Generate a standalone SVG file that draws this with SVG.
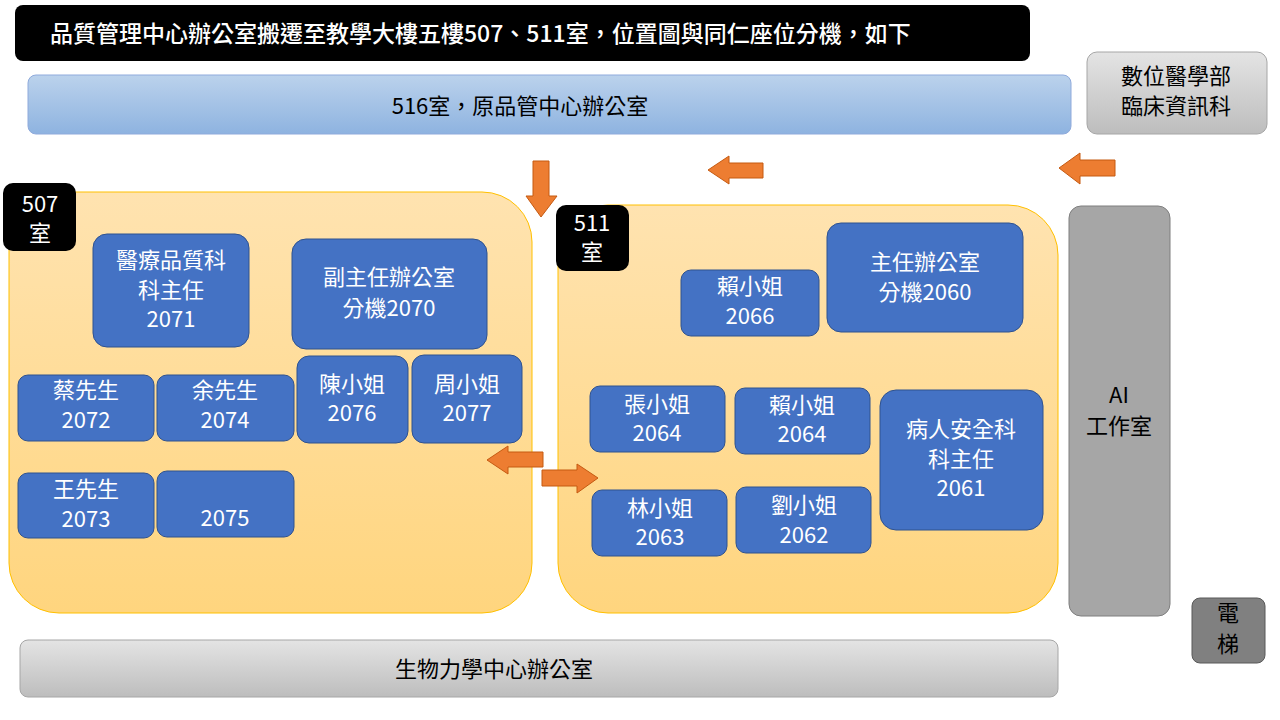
<svg xmlns="http://www.w3.org/2000/svg" width="1280" height="720" viewBox="0 0 1280 720">
<defs>
<linearGradient id="og" x1="0" y1="0" x2="0" y2="1"><stop offset="0" stop-color="#FFE3B0"/><stop offset="1" stop-color="#FFD57E"/></linearGradient>
<linearGradient id="bg" x1="0" y1="0" x2="0" y2="1"><stop offset="0" stop-color="#BBD2EC"/><stop offset="1" stop-color="#8EB3E0"/></linearGradient>
<linearGradient id="gg" x1="0" y1="0" x2="0" y2="1"><stop offset="0" stop-color="#E4E4E4"/><stop offset="1" stop-color="#BDBDBD"/></linearGradient>
<style>
text{font-family:"Noto Sans CJK TC","Noto Sans",sans-serif;font-size:22px;font-weight:400;text-anchor:middle;fill:#000}
.w{fill:#fff}
.n rect{fill:#4472C4;stroke:#2F528F;stroke-width:1}
.lab{fill:#000}
.ar{fill:#ED7D31;stroke:#C55A11;stroke-width:1}
</style>
</defs>
<g id="title"><rect x="15" y="5" width="1015" height="56" rx="8" fill="#000"/><text x="50" y="42" class="w" style="text-anchor:start;font-size:23px;font-weight:500">品質管理中心辦公室搬遷至教學大樓五樓507、511室，位置圖與同仁座位分機，如下</text></g>
<g id="r516"><rect x="28" y="75" width="1043" height="59" rx="8" fill="url(#bg)" stroke="#8FAADC"/><text x="520" y="114">516室，原品管中心辦公室</text></g>
<g id="digital"><rect x="1087" y="52" width="180" height="82" rx="10" fill="url(#gg)" stroke="#A6A6A6"/><text x="1176" y="84">數位醫學部</text><text x="1176" y="114">臨床資訊科</text></g>
<g id="r507"><rect x="9" y="192" width="523" height="421" rx="50" fill="url(#og)" stroke="#FFC000"/><rect x="3" y="183" width="73" height="68" rx="10" class="lab"/><text x="40" y="212" class="w">507</text><text x="40" y="241" class="w">室</text></g>
<g id="r511"><rect x="558" y="205" width="500" height="408" rx="50" fill="url(#og)" stroke="#FFC000"/><rect x="556" y="205" width="73" height="66" rx="10" class="lab"/><text x="592" y="231" class="w">511</text><text x="592" y="260" class="w">室</text></g>
<g id="ai"><rect x="1069" y="206" width="101" height="410" rx="12" fill="#A6A6A6" stroke="#7F7F7F"/><text x="1119" y="403">AI</text><text x="1119" y="434">工作室</text></g>
<g id="elev"><rect x="1192" y="598" width="73" height="65" rx="8" fill="#808080" stroke="#595959"/><text x="1228" y="621">電</text><text x="1228" y="652">梯</text></g>
<g id="bio"><rect x="20" y="640" width="1038" height="57" rx="8" fill="url(#gg)" stroke="#A6A6A6"/><text x="494" y="677">生物力學中心辦公室</text></g>
<g id="n2071" class="n"><rect x="93" y="234" width="156" height="113" rx="14"/><text x="171" y="268" class="w">醫療品質科</text><text x="171" y="298" class="w">科主任</text><text x="171" y="327" class="w">2071</text></g>
<g id="n2070" class="n"><rect x="292" y="239" width="195" height="110" rx="14"/><text x="389" y="285" class="w">副主任辦公室</text><text x="389" y="316" class="w">分機2070</text></g>
<g id="n2072" class="n"><rect x="18" y="375" width="136" height="66" rx="10"/><text x="86" y="398" class="w">蔡先生</text><text x="86" y="428" class="w">2072</text></g>
<g id="n2074" class="n"><rect x="157" y="375" width="137" height="66" rx="10"/><text x="225" y="398" class="w">余先生</text><text x="225" y="428" class="w">2074</text></g>
<g id="n2076" class="n"><rect x="297" y="356" width="111" height="87" rx="12"/><text x="352" y="392" class="w">陳小姐</text><text x="352" y="421" class="w">2076</text></g>
<g id="n2077" class="n"><rect x="412" y="355" width="110" height="88" rx="12"/><text x="467" y="392" class="w">周小姐</text><text x="467" y="421" class="w">2077</text></g>
<g id="n2073" class="n"><rect x="18" y="473" width="136" height="65" rx="10"/><text x="86" y="497" class="w">王先生</text><text x="86" y="527" class="w">2073</text></g>
<g id="n2075" class="n"><rect x="157" y="471" width="137" height="66" rx="10"/><text x="225" y="526" class="w">2075</text></g>
<g id="n2066" class="n"><rect x="681" y="270" width="138" height="66" rx="10"/><text x="750" y="294" class="w">賴小姐</text><text x="750" y="324" class="w">2066</text></g>
<g id="n2060" class="n"><rect x="827" y="223" width="196" height="109" rx="14"/><text x="925" y="270" class="w">主任辦公室</text><text x="925" y="300" class="w">分機2060</text></g>
<g id="n2064a" class="n"><rect x="590" y="386" width="135" height="66" rx="10"/><text x="657" y="412" class="w">張小姐</text><text x="657" y="441" class="w">2064</text></g>
<g id="n2064b" class="n"><rect x="735" y="388" width="135" height="66" rx="10"/><text x="802" y="413" class="w">賴小姐</text><text x="802" y="442" class="w">2064</text></g>
<g id="n2061" class="n"><rect x="880" y="390" width="163" height="140" rx="16"/><text x="961" y="437" class="w">病人安全科</text><text x="961" y="467" class="w">科主任</text><text x="961" y="496" class="w">2061</text></g>
<g id="n2063" class="n"><rect x="592" y="490" width="135" height="66" rx="10"/><text x="660" y="516" class="w">林小姐</text><text x="660" y="545" class="w">2063</text></g>
<g id="n2062" class="n"><rect x="736" y="487" width="135" height="66" rx="10"/><text x="804" y="513" class="w">劉小姐</text><text x="804" y="543" class="w">2062</text></g>
<g id="connectors">
<polygon class="ar" points="533,161 549,161 549,196 557,196 541,217 526,196 533,196"/>
<polygon class="ar" points="763,163 763,178 729,178 729,184 708,170 729,156 729,163"/>
<polygon class="ar" points="1115,160 1115,176 1080,176 1080,184 1059,168 1080,153 1080,160"/>
<polygon class="ar" points="543,452 543,467 508,467 508,474 487,460 508,446 508,452"/>
<polygon class="ar" points="542,470 542,486 577,486 577,493 598,478 577,464 577,470"/>
</g>
</svg>
